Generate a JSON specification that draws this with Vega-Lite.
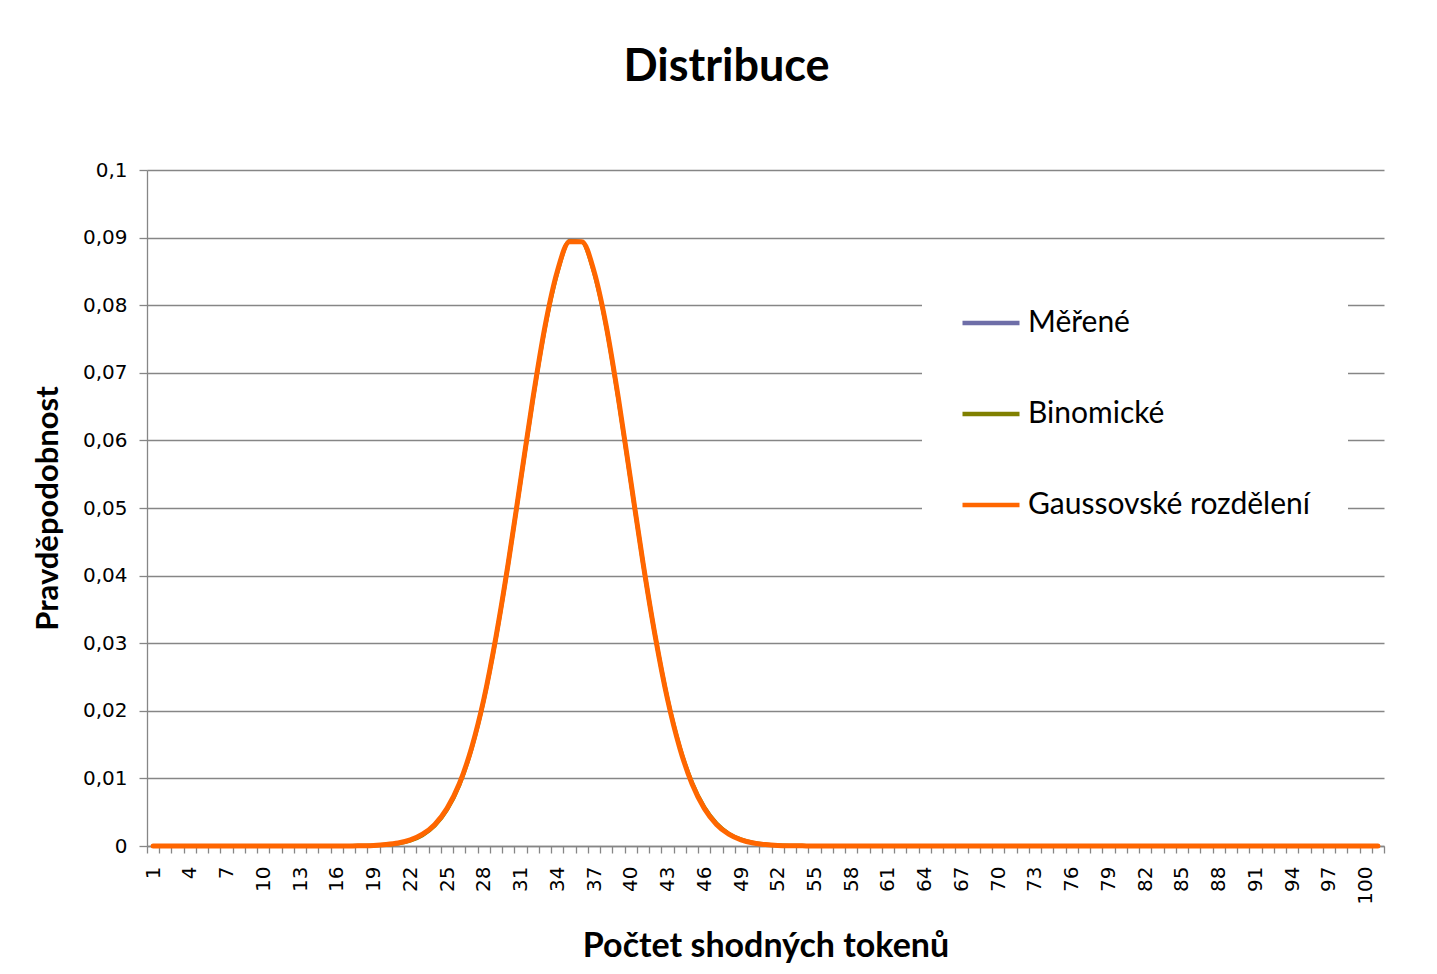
{
  "$schema": "https://vega.github.io/schema/vega-lite/v6.json",
  "width": 1237,
  "height": 676,
  "autosize": {"type": "none"},
  "padding": {"left": 147, "top": 170, "right": 53, "bottom": 128},
  "background": "white",
  "config": {"view": {"stroke": null}},
  "title": {"text": "Distribuce", "font": "Lato", "fontSize": 45, "fontWeight": "bold", "color": "#000000", "anchor": "middle", "frame": "group", "dx": -39, "offset": 70},
  "data": {"values": [
    {"k": 1, "m": 0, "b": 0, "g": 0},
    {"k": 2, "m": 0, "b": 0, "g": 0},
    {"k": 3, "m": 0, "b": 0, "g": 0},
    {"k": 4, "m": 0, "b": 0, "g": 0},
    {"k": 5, "m": 0, "b": 0, "g": 0},
    {"k": 6, "m": 0, "b": 0, "g": 0},
    {"k": 7, "m": 0, "b": 0, "g": 0},
    {"k": 8, "m": 0, "b": 0, "g": 0},
    {"k": 9, "m": 0, "b": 0, "g": 0},
    {"k": 10, "m": 0, "b": 0, "g": 0},
    {"k": 11, "m": 0, "b": 0, "g": 0},
    {"k": 12, "m": 0, "b": 0, "g": 0},
    {"k": 13, "m": 0, "b": 0, "g": 0},
    {"k": 14, "m": 0, "b": 0, "g": 0},
    {"k": 15, "m": 0, "b": 0, "g": 0},
    {"k": 16, "m": 0, "b": 0, "g": 0},
    {"k": 17, "m": 0, "b": 0, "g": 0},
    {"k": 18, "m": 0.00003, "b": 0.00003, "g": 0.00004},
    {"k": 19, "m": 0.00008, "b": 0.00007, "g": 0.00009},
    {"k": 20, "m": 0.00018, "b": 0.00017, "g": 0.00021},
    {"k": 21, "m": 0.0004, "b": 0.00038, "g": 0.00044},
    {"k": 22, "m": 0.00085, "b": 0.0008, "g": 0.0009},
    {"k": 23, "m": 0.00165, "b": 0.0016, "g": 0.00174},
    {"k": 24, "m": 0.00305, "b": 0.003, "g": 0.00319},
    {"k": 25, "m": 0.0054, "b": 0.00535, "g": 0.00556},
    {"k": 26, "m": 0.00905, "b": 0.009, "g": 0.0092},
    {"k": 27, "m": 0.0144, "b": 0.01435, "g": 0.0145},
    {"k": 28, "m": 0.02165, "b": 0.0216, "g": 0.0217},
    {"k": 29, "m": 0.0309, "b": 0.03085, "g": 0.031},
    {"k": 30, "m": 0.0418, "b": 0.04185, "g": 0.0419},
    {"k": 31, "m": 0.0538, "b": 0.0539, "g": 0.054},
    {"k": 32, "m": 0.0659, "b": 0.06595, "g": 0.0661},
    {"k": 33, "m": 0.07665, "b": 0.0767, "g": 0.0769},
    {"k": 34, "m": 0.0848, "b": 0.08475, "g": 0.085},
    {"k": 35, "m": 0.0897, "b": 0.08945, "g": 0.0894},
    {"k": 36, "m": 0.0895, "b": 0.08935, "g": 0.0894},
    {"k": 37, "m": 0.0847, "b": 0.0848, "g": 0.085},
    {"k": 38, "m": 0.0766, "b": 0.07675, "g": 0.0769},
    {"k": 39, "m": 0.06585, "b": 0.0659, "g": 0.0661},
    {"k": 40, "m": 0.05385, "b": 0.0539, "g": 0.054},
    {"k": 41, "m": 0.0419, "b": 0.04185, "g": 0.0419},
    {"k": 42, "m": 0.03095, "b": 0.031, "g": 0.031},
    {"k": 43, "m": 0.02175, "b": 0.0218, "g": 0.0217},
    {"k": 44, "m": 0.0146, "b": 0.01465, "g": 0.0145},
    {"k": 45, "m": 0.00935, "b": 0.0094, "g": 0.0092},
    {"k": 46, "m": 0.0057, "b": 0.00575, "g": 0.00556},
    {"k": 47, "m": 0.0033, "b": 0.00335, "g": 0.00319},
    {"k": 48, "m": 0.0018, "b": 0.00184, "g": 0.00174},
    {"k": 49, "m": 0.00095, "b": 0.00097, "g": 0.0009},
    {"k": 50, "m": 0.00047, "b": 0.00048, "g": 0.00044},
    {"k": 51, "m": 0.00022, "b": 0.00023, "g": 0.00021},
    {"k": 52, "m": 0.0001, "b": 0.0001, "g": 0.00009},
    {"k": 53, "m": 0.00004, "b": 0.00004, "g": 0.00004},
    {"k": 54, "m": 0, "b": 0.00002, "g": 0.00002},
    {"k": 55, "m": 0, "b": 0, "g": 0},
    {"k": 56, "m": 0, "b": 0, "g": 0},
    {"k": 57, "m": 0, "b": 0, "g": 0},
    {"k": 58, "m": 0, "b": 0, "g": 0},
    {"k": 59, "m": 0, "b": 0, "g": 0},
    {"k": 60, "m": 0, "b": 0, "g": 0},
    {"k": 61, "m": 0, "b": 0, "g": 0},
    {"k": 62, "m": 0, "b": 0, "g": 0},
    {"k": 63, "m": 0, "b": 0, "g": 0},
    {"k": 64, "m": 0, "b": 0, "g": 0},
    {"k": 65, "m": 0, "b": 0, "g": 0},
    {"k": 66, "m": 0, "b": 0, "g": 0},
    {"k": 67, "m": 0, "b": 0, "g": 0},
    {"k": 68, "m": 0, "b": 0, "g": 0},
    {"k": 69, "m": 0, "b": 0, "g": 0},
    {"k": 70, "m": 0, "b": 0, "g": 0},
    {"k": 71, "m": 0, "b": 0, "g": 0},
    {"k": 72, "m": 0, "b": 0, "g": 0},
    {"k": 73, "m": 0, "b": 0, "g": 0},
    {"k": 74, "m": 0, "b": 0, "g": 0},
    {"k": 75, "m": 0, "b": 0, "g": 0},
    {"k": 76, "m": 0, "b": 0, "g": 0},
    {"k": 77, "m": 0, "b": 0, "g": 0},
    {"k": 78, "m": 0, "b": 0, "g": 0},
    {"k": 79, "m": 0, "b": 0, "g": 0},
    {"k": 80, "m": 0, "b": 0, "g": 0},
    {"k": 81, "m": 0, "b": 0, "g": 0},
    {"k": 82, "m": 0, "b": 0, "g": 0},
    {"k": 83, "m": 0, "b": 0, "g": 0},
    {"k": 84, "m": 0, "b": 0, "g": 0},
    {"k": 85, "m": 0, "b": 0, "g": 0},
    {"k": 86, "m": 0, "b": 0, "g": 0},
    {"k": 87, "m": 0, "b": 0, "g": 0},
    {"k": 88, "m": 0, "b": 0, "g": 0},
    {"k": 89, "m": 0, "b": 0, "g": 0},
    {"k": 90, "m": 0, "b": 0, "g": 0},
    {"k": 91, "m": 0, "b": 0, "g": 0},
    {"k": 92, "m": 0, "b": 0, "g": 0},
    {"k": 93, "m": 0, "b": 0, "g": 0},
    {"k": 94, "m": 0, "b": 0, "g": 0},
    {"k": 95, "m": 0, "b": 0, "g": 0},
    {"k": 96, "m": 0, "b": 0, "g": 0},
    {"k": 97, "m": 0, "b": 0, "g": 0},
    {"k": 98, "m": 0, "b": 0, "g": 0},
    {"k": 99, "m": 0, "b": 0, "g": 0},
    {"k": 100, "m": 0, "b": 0, "g": 0},
    {"k": 101, "m": 0, "b": 0, "g": 0}
  ]},
  "encoding": {
    "x": {
      "field": "k", "type": "ordinal",
      "scale": {"type": "band", "paddingInner": 0, "paddingOuter": 0},
      "axis": {
        "title": "Počtet shodných tokenů",
        "titleFont": "Lato", "titleFontSize": 34, "titleFontWeight": "bold", "titleColor": "#000000", "titlePadding": 25,
        "labelAngle": 270, "labelFont": "DejaVu Sans", "labelFontSize": 20, "labelColor": "#000000", "labelPadding": 13,
        "labelExpr": "(datum.value - 1) % 3 === 0 ? datum.label : ''",
        "labelOverlap": false,
        "tickBand": "extent", "ticks": true, "tickSize": 7, "tickColor": "#868686", "tickWidth": 1.3,
        "domainColor": "#868686", "domainWidth": 1.3, "grid": false
      }
    }
  },
  "layer": [
    {
      "mark": {"type": "line", "strokeWidth": 2, "strokeJoin": "round", "strokeCap": "round", "interpolate": "monotone"},
      "encoding": {
        "y": {"field": "m", "type": "quantitative", "title": "Pravděpodobnost",
          "scale": {"domain": [0, 0.1], "nice": false, "zero": true},
          "axis": {
            "values": [0, 0.01, 0.02, 0.03, 0.04, 0.05, 0.06, 0.07, 0.08, 0.09, 0.1],
            "labelExpr": "replace(format(datum.value, '~g'), '.', ',')",
            "labelFont": "DejaVu Sans", "labelFontSize": 20, "labelColor": "#000000", "labelPadding": 12,
            "tickSize": 8, "tickColor": "#868686", "tickWidth": 1.3,
            "domainColor": "#868686", "domainWidth": 1.3,
            "grid": true, "gridColor": "#868686", "gridWidth": 1.3,
            "titleFont": "Lato", "titleFontSize": 31, "titleFontWeight": "bold", "titleColor": "#000000", "titlePadding": 18
          }
        },
        "color": {
          "datum": "Měřené", "type": "nominal",
          "scale": {"domain": ["Měřené", "Binomické", "Gaussovské rozdělení"], "range": ["#6E6EA8", "#808000", "#FF6600"]},
          "legend": {
            "title": null, "orient": "none", "legendX": 775, "legendY": 84,
            "padding": 38, "fillColor": "white", "strokeColor": null,
            "symbolType": "stroke", "symbolSize": 3249, "symbolStrokeWidth": 4.5,
            "labelFont": "Lato", "labelFontSize": 30, "labelColor": "#000000", "labelOffset": 6, "labelLimit": 0,
            "rowPadding": 45,
            "encoding": {"symbols": {"update": {"strokeWidth": {"signal": "datum.value === 'Měřené' ? 2.5 : 4.5"}}}}
          }
        }
      }
    },
    {
      "mark": {"type": "line", "strokeWidth": 4, "strokeJoin": "round", "strokeCap": "round", "interpolate": "monotone"},
      "encoding": {
        "y": {"field": "b", "type": "quantitative", "title": "Pravděpodobnost"},
        "color": {"datum": "Binomické", "type": "nominal"}
      }
    },
    {
      "mark": {"type": "line", "strokeWidth": 5, "strokeJoin": "round", "strokeCap": "round", "interpolate": "monotone"},
      "encoding": {
        "y": {"field": "g", "type": "quantitative", "title": "Pravděpodobnost"},
        "color": {"datum": "Gaussovské rozdělení", "type": "nominal"}
      }
    }
  ]
}
